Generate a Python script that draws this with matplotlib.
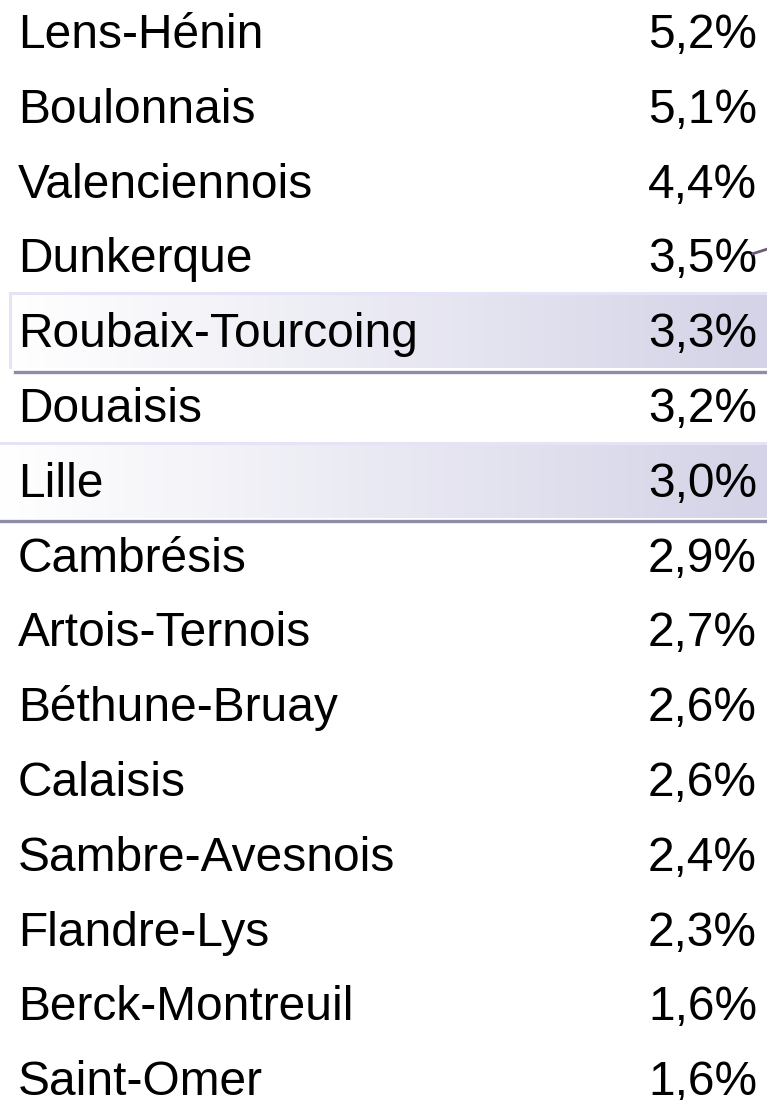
import matplotlib.pyplot as plt
import numpy as np
from matplotlib.colors import LinearSegmentedColormap

# Table data: unemployment share by zone
zones = ["Lens-Hénin", "Boulonnais", "Valenciennois", "Dunkerque",
         "Roubaix-Tourcoing", "Douaisis", "Lille", "Cambrésis",
         "Artois-Ternois", "Béthune-Bruay", "Calaisis", "Sambre-Avesnois",
         "Flandre-Lys", "Berck-Montreuil", "Saint-Omer"]
rates = [5.2, 5.1, 4.4, 3.5, 3.3, 3.2, 3.0, 2.9, 2.7, 2.6, 2.6, 2.4, 2.3, 1.6, 1.6]
highlighted = ["Roubaix-Tourcoing", "Lille"]

plt.rcParams['font.family'] = ['Liberation Sans', 'DejaVu Sans']

W, H = 767, 1100
row_h = 74.8
first_center = 31.5

fig = plt.figure(figsize=(W / 100, H / 100), dpi=100)
ax = fig.add_axes([0, 0, 1, 1])
ax.axis('off')

# gradient for highlighted rows
grad_cmap = LinearSegmentedColormap.from_list('band', ['#ffffff', '#d4d3e7'])
grad = np.linspace(0, 1, 256).reshape(1, -1)

for i, name in enumerate(zones):
    if name in highlighted:
        x0 = 10 if name == "Roubaix-Tourcoing" else 0
        ax.imshow(grad, cmap=grad_cmap, aspect='auto',
                  extent=[x0, W, i + 0.5, i - 0.5], zorder=1)
        ax.plot([x0, W], [i - 0.5, i - 0.5], color='#e4e4f6', lw=2.2, zorder=2)
        if x0 > 0:
            ax.plot([x0, x0], [i - 0.5, i + 0.48], color='#e4e4f6', lw=2.2, zorder=2)
        ax.plot([x0 + 5 if x0 else 0, W], [i + 0.55, i + 0.55],
                color='#8d8ca9', lw=2.4, zorder=3)

    label_y = i + 0.22
    ax.text(18, label_y, name, fontsize=34.5, va='baseline', ha='left',
            color='black', zorder=4)
    pct = f"{rates[i]:.1f}".replace('.', ',') + '%'
    ax.text(757, label_y, pct, fontsize=34.5, va='baseline', ha='right',
            color='black', zorder=4)

# small connector stroke next to Dunkerque value
ax.plot([753, W], [3 - 0.03, 3 - 0.09], color='#6e5a7a', lw=2.0, zorder=5)

ax.set_xlim(0, W)
ax.set_ylim((H - first_center) / row_h, -first_center / row_h)
fig.savefig('out.png', dpi=100)
